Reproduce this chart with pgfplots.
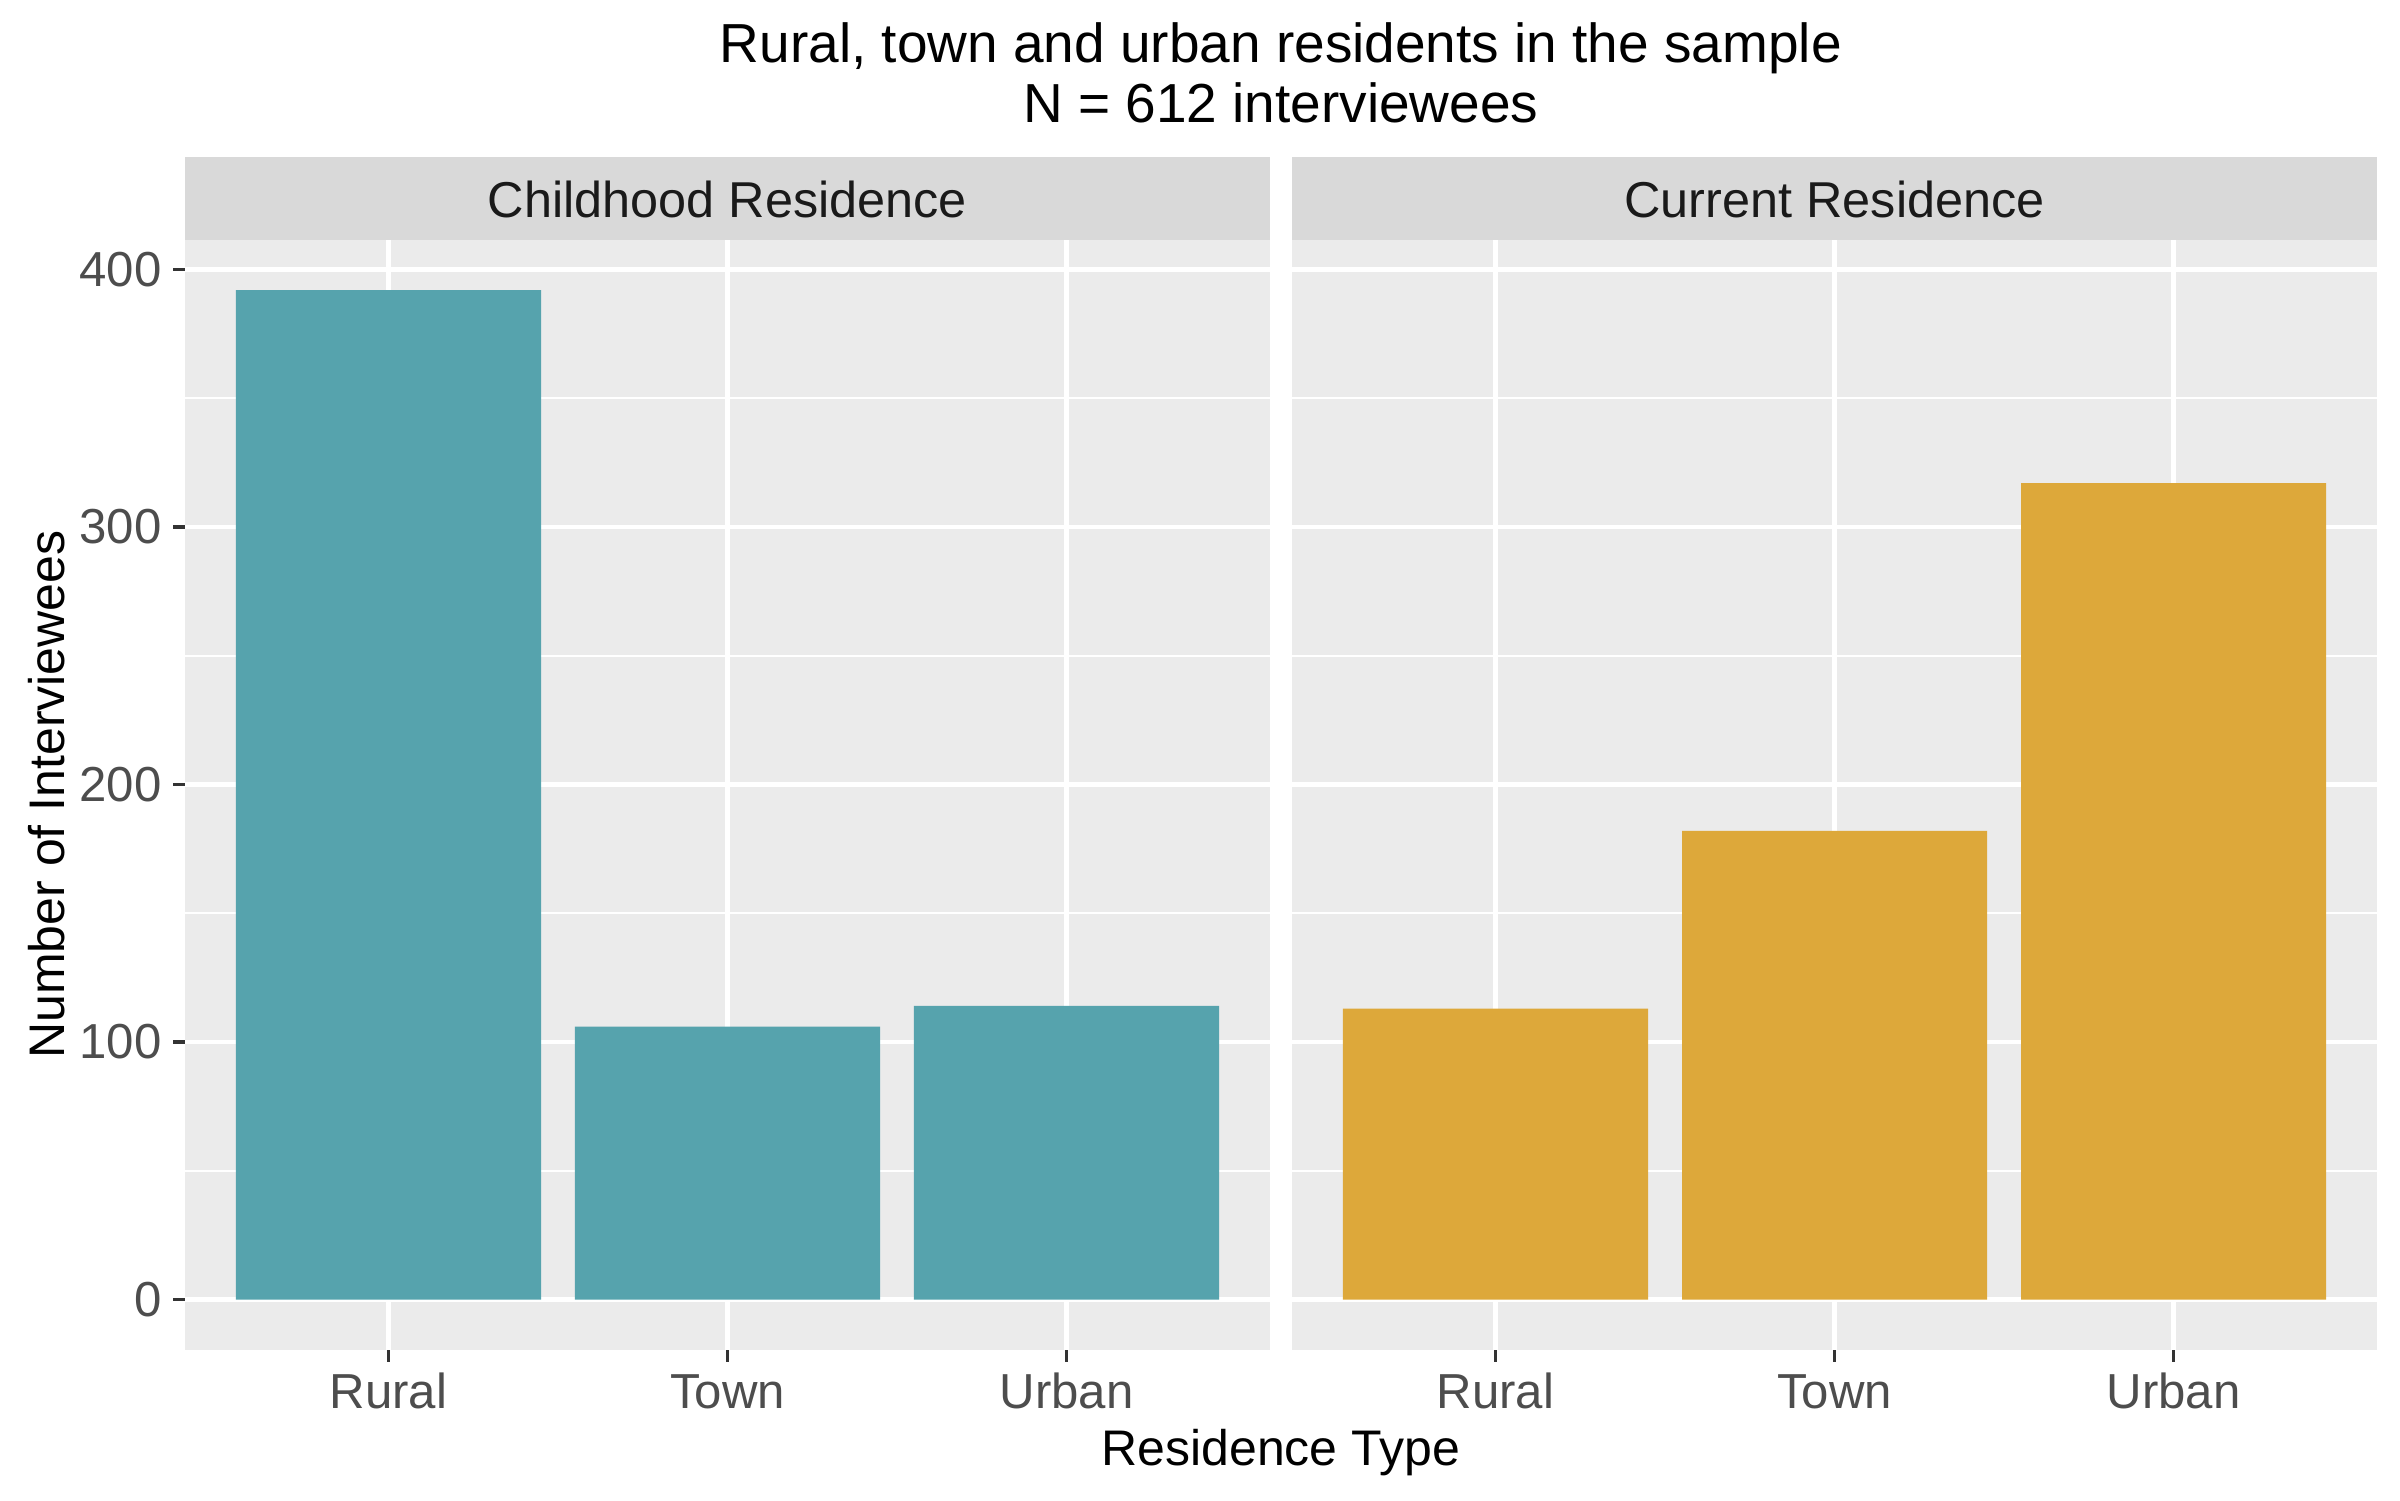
\documentclass[border=0pt]{standalone}
\usepackage{fontspec}
\setmainfont{Liberation Sans}
\usepackage{pgfplots}
\pgfplotsset{compat=1.18}

\definecolor{panelbg}{HTML}{EBEBEB}
\definecolor{stripbg}{HTML}{D9D9D9}
\definecolor{ticktext}{HTML}{4D4D4D}
\definecolor{tickline}{HTML}{333333}
\definecolor{striptext}{HTML}{1A1A1A}
\definecolor{childbar}{HTML}{56A3AD}
\definecolor{currbar}{HTML}{DDA83A}

\pgfplotsset{facet/.style={
    anchor=south west, scale only axis,
    width=260.4pt, height=266.5pt,
    xmin=0.4, xmax=3.6, ymin=-19.6, ymax=411.6,
    axis background/.style={fill=panelbg},
    axis line style={draw=none},
    xtick={1,2,3}, xticklabels={Rural,Town,Urban},
    ytick={0,100,200,300,400}, minor ytick={50,150,250,350},
    xmajorgrids, ymajorgrids, yminorgrids,
    major grid style={white, line width=1.1pt},
    minor grid style={white, line width=0.55pt},
    tick align=outside, tick pos=left,
    major tick length=2.8pt, minor tick length=0pt,
    tick style={tickline, line width=0.8pt},
    ticklabel style={font=\fontsize{11.8}{14}\selectfont, text=ticktext},
    xticklabel style={text height=8.6pt, text depth=0pt, yshift=1pt},
    yticklabel style={xshift=0.7pt},
    /pgf/number format/assume math mode=true,
}}

\begin{document}
\begin{tikzpicture}
\useasboundingbox (0,0) rectangle (576pt,360pt);

% left facet: where people grew up
\begin{axis}[facet, name=left, at={(44.4pt,36pt)}]
\addplot[ybar, bar width=0.9, fill=childbar, draw=none]
  coordinates {(1,392) (2,106) (3,114)};
\end{axis}

% right facet: where they live now
\begin{axis}[facet, name=right, at={(310.1pt,36pt)},
    yticklabels={}, ytick style={draw=none}]
\addplot[ybar, bar width=0.9, fill=currbar, draw=none]
  coordinates {(1,113) (2,182) (3,317)};
\end{axis}

% facet strips
\fill[stripbg] (left.north west) rectangle ([yshift=19.8pt]left.north east);
\fill[stripbg] (right.north west) rectangle ([yshift=19.8pt]right.north east);
\node[anchor=base, text=striptext, font=\fontsize{12.1}{14}\selectfont]
  at ([yshift=5.2pt]left.north) {Childhood Residence};
\node[anchor=base, text=striptext, font=\fontsize{12.1}{14}\selectfont]
  at ([yshift=5.2pt]right.north) {Current Residence};

% titles and axis labels
\node[anchor=base, font=\fontsize{13.2}{15}\selectfont]
  at (307.4pt,344.9pt) {Rural, town and urban residents in the sample};
\node[anchor=base, font=\fontsize{13.2}{15}\selectfont]
  at (307.4pt,330.5pt) {N = 612 interviewees};
\node[anchor=base, font=\fontsize{12}{14}\selectfont]
  at (307.4pt,8.2pt) {Residence Type};
\node[anchor=base, rotate=90, font=\fontsize{12}{14}\selectfont]
  at (15.4pt,169.3pt) {Number of Interviewees};
\end{tikzpicture}
\end{document}
